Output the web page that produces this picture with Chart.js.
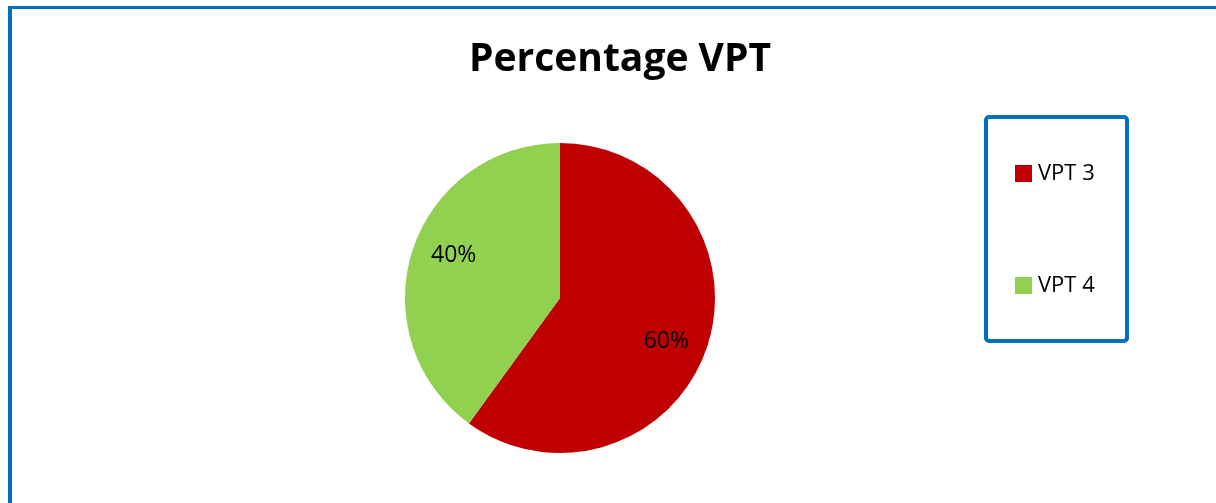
<!DOCTYPE html>
<html>
<head>
<meta charset="utf-8">
<script src="https://cdn.jsdelivr.net/npm/chart.js@4.4.1/dist/chart.umd.min.js"></script>
<style>
  body { margin: 0; background: #fff; overflow: hidden; }
  #wrap { position: relative; width: 1216px; height: 503px; overflow: hidden; }
  #frame { position: absolute; left: 8px; top: 6px; width: 1300px; height: 600px;
           border-left: 4px solid #0070C0; border-top: 3px solid #0070C0; }
  #graphic { position: absolute; left: 0; top: 0; }
</style>
</head>
<body>
<div id="wrap">
  <div id="frame"></div>
  <canvas id="graphic" width="1216" height="503"></canvas>
</div>
<script>
// ==========================================================================
// DATA
// ==========================================================================
const title = 'Percentage VPT';
const labels = ['VPT 3', 'VPT 4'];
const values = [60, 40];
const colors = ['#C00000', '#92D050'];

const FONT = '"Open Sans", "Liberation Sans", sans-serif';

// ==========================================================================
// PLUGINS
// ==========================================================================
// title, percent labels and the boxed legend on the right
const extras = {
  id: 'extras',
  afterDraw(chart) {
    const ctx = chart.ctx;
    ctx.save();

    // title
    ctx.fillStyle = '#000';
    ctx.font = 'bold 39px ' + FONT;
    ctx.textAlign = 'center';
    ctx.textBaseline = 'alphabetic';
    ctx.fillText(title, 620, 71);

    // percentages inside the slices
    const total = values.reduce((a, b) => a + b, 0);
    ctx.font = '23px ' + FONT;
    ctx.textBaseline = 'middle';
    chart.getDatasetMeta(0).data.forEach((arc, i) => {
      const mid = (arc.startAngle + arc.endAngle) / 2 + 0.07;
      const r = arc.outerRadius * 0.74;
      const x = arc.x + Math.cos(mid) * r;
      const y = arc.y + Math.sin(mid) * r;
      ctx.fillText(Math.round(values[i] / total * 100) + '%', x, y);
    });

    // legend box
    ctx.strokeStyle = '#0070C0';
    ctx.lineWidth = 4;
    ctx.beginPath();
    ctx.roundRect(986, 117, 141, 224, 3);
    ctx.stroke();

    ctx.font = '22px ' + FONT;
    ctx.textAlign = 'left';
    const rows = [173, 285];
    labels.forEach((lab, i) => {
      ctx.fillStyle = colors[i];
      ctx.fillRect(1015, rows[i] - 8, 17, 17);
      ctx.fillStyle = '#000';
      ctx.fillText(lab, 1038, rows[i] + 1);
    });

    ctx.restore();
  }
};

// ==========================================================================
// GRAPHIC
// ==========================================================================
let ctx = document.getElementById('graphic').getContext('2d');
let myChart = new Chart(ctx, {
  type: 'pie',
  data: {
    labels: labels,
    datasets: [{
      data: values,
      backgroundColor: colors,
      borderWidth: 0
    }]
  },
  options: {
    responsive: false,
    animation: false,
    layout: {
      padding: { top: 143, bottom: 50, left: 0, right: 96 }
    },
    plugins: {
      legend: { display: false },
      title: { display: false },
      tooltip: { enabled: false }
    }
  },
  plugins: [extras]
});
</script>
</body>
</html>
